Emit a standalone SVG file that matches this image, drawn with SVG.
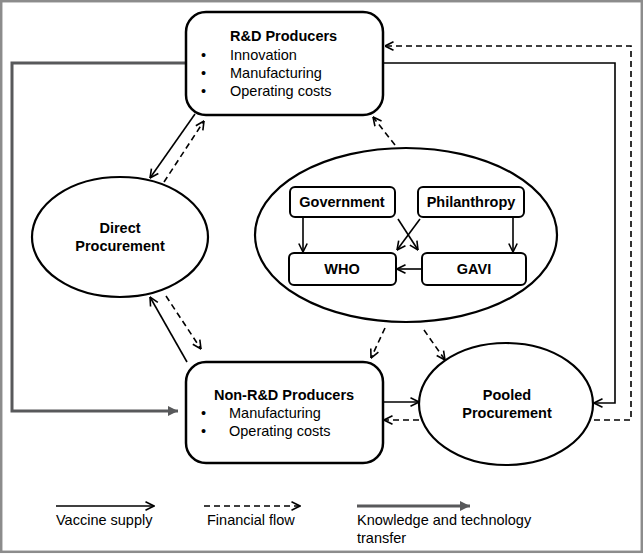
<svg xmlns="http://www.w3.org/2000/svg" width="643" height="554" viewBox="0 0 643 554">
<style>
.bg{fill:#fff}
.frame{fill:none;stroke:#8c8c8c;stroke-width:2.5}
.box{fill:#fff;stroke:#000;stroke-width:2.5}
.ibox{fill:#fff;stroke:#000;stroke-width:2}
.ell{fill:#fff;stroke:#000;stroke-width:2.2}
.t{font-family:"Liberation Sans",Arial,sans-serif;font-size:14.5px;fill:#000}
.b{font-weight:bold}
.m{text-anchor:middle}
.sol{fill:none;stroke:#000;stroke-width:1.6}
.dash{fill:none;stroke:#000;stroke-width:1.6;stroke-dasharray:6 4}
.know{fill:none;stroke:#58595b;stroke-width:3}
</style>
<defs>
<marker id="open" viewBox="0 0 10 10" refX="9.5" refY="5" markerWidth="10" markerHeight="12" markerUnits="userSpaceOnUse" orient="auto">
<path d="M1,0.8 L9.5,5 L1,9.2" fill="none" stroke="#000" stroke-width="1.6"/>
</marker>
<marker id="fill" viewBox="0 0 10 10" refX="10" refY="5" markerWidth="10" markerHeight="13" markerUnits="userSpaceOnUse" orient="auto">
<path d="M0,0 L10,5 L0,10 Z" fill="#58595b"/>
</marker>
</defs>
<rect class="bg" x="0" y="0" width="643" height="554"/>
<rect class="frame" x="1.2" y="1.2" width="640.6" height="550.6"/>

<g id="connectors">
<path class="know" d="M186,63 H12 V411 H178" marker-end="url(#fill)"/>
<path class="sol" d="M383,63 H615 V403 H594" marker-end="url(#open)"/>
<path class="dash" d="M594,420 H631 V46 H385" marker-end="url(#open)"/>
<path class="sol" d="M383,402 H419" marker-end="url(#open)"/>
<path class="dash" d="M419,420 H384" marker-end="url(#open)"/>
<path class="sol" d="M195,114 L150,178" marker-end="url(#open)"/>
<path class="dash" d="M164,182 L204,121" marker-end="url(#open)"/>
<path class="sol" d="M187,362 L150,297" marker-end="url(#open)"/>
<path class="dash" d="M166,296 L201,349" marker-end="url(#open)"/>
<path class="dash" d="M395,145 L373,117" marker-end="url(#open)"/>
<path class="dash" d="M385,328 L371,358" marker-end="url(#open)"/>
<path class="dash" d="M424,330 L445,360" marker-end="url(#open)"/>
</g>

<g id="rd-producers">
<rect class="box" x="186" y="12" width="197" height="103" rx="20"/>
<text class="t b" x="230" y="41">R&amp;D Producers</text>
<text class="t" x="201" y="60">•</text><text class="t" x="230" y="60">Innovation</text>
<text class="t" x="201" y="78">•</text><text class="t" x="230" y="78">Manufacturing</text>
<text class="t" x="201" y="96">•</text><text class="t" x="230" y="96">Operating costs</text>
</g>

<g id="direct-procurement">
<ellipse class="ell" cx="120" cy="237" rx="88" ry="60"/>
<text class="t b m" x="120" y="233">Direct</text>
<text class="t b m" x="120" y="251">Procurement</text>
</g>

<g id="funders">
<ellipse class="ell" cx="406" cy="235" rx="151" ry="87"/>
<g id="government">
<rect class="ibox" x="290" y="187" width="105" height="30" rx="5"/>
<text class="t b m" x="342" y="207">Government</text>
</g>
<g id="philanthropy">
<rect class="ibox" x="418" y="187" width="106" height="30" rx="5"/>
<text class="t b m" x="471" y="207">Philanthropy</text>
</g>
<g id="who">
<rect class="ibox" x="289" y="253" width="107" height="32" rx="5"/>
<text class="t b m" x="342" y="274">WHO</text>
</g>
<g id="gavi">
<rect class="ibox" x="422" y="253" width="104" height="32" rx="5"/>
<text class="t b m" x="474" y="274">GAVI</text>
</g>
<g id="funder-connectors">
<path class="sol" d="M303,217 V252" marker-end="url(#open)"/>
<path class="sol" d="M513,217 V252" marker-end="url(#open)"/>
<path class="sol" d="M422,269 H397" marker-end="url(#open)"/>
<path class="sol" d="M398,219 L418,250" marker-end="url(#open)"/>
<path class="sol" d="M420,219 L397,250" marker-end="url(#open)"/>
</g>
</g>

<g id="non-rd-producers">
<rect class="box" x="186" y="362" width="197" height="101" rx="20"/>
<text class="t b m" x="284" y="400">Non-R&amp;D Producers</text>
<text class="t" x="201" y="418">•</text><text class="t" x="229" y="418">Manufacturing</text>
<text class="t" x="201" y="436">•</text><text class="t" x="229" y="436">Operating costs</text>
</g>

<g id="pooled-procurement">
<ellipse class="ell" cx="506" cy="404" rx="87" ry="61"/>
<text class="t b m" x="507" y="400">Pooled</text>
<text class="t b m" x="507" y="418">Procurement</text>
</g>

<g id="legend">
<path class="sol" d="M56,506 H154" marker-end="url(#open)"/>
<text class="t" x="56" y="525">Vaccine supply</text>
<path class="dash" d="M204,506 H300" marker-end="url(#open)"/>
<text class="t" x="207" y="525">Financial flow</text>
<path class="know" d="M357,506 H470" marker-end="url(#fill)"/>
<text class="t" x="357" y="525">Knowledge and technology</text>
<text class="t" x="357" y="543">transfer</text>
</g>
</svg>
